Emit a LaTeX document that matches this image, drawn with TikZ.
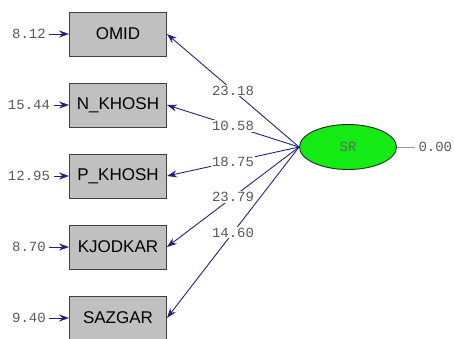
\documentclass[tikz,border=0pt]{standalone}
\usepackage{fontspec}
\setmainfont{Liberation Sans}
\setmonofont{Liberation Mono}
\usetikzlibrary{arrows.meta,shapes.geometric}
\definecolor{pathblue}{RGB}{35,35,125}
\definecolor{boxgray}{RGB}{192,192,192}
\definecolor{latgreen}{RGB}{20,235,20}

\begin{document}
\begin{tikzpicture}[x=1pt,y=-1pt,
    obs/.style={draw=black!75,fill=boxgray,line width=0.9pt,minimum width=97pt,
      minimum height=44pt,inner sep=0pt,font=\fontsize{17}{19}\selectfont},
    lat/.style={ellipse,draw=black!85,fill=latgreen,line width=0.9pt,minimum width=97pt,
      minimum height=45pt,inner sep=0pt,text=black!60,font=\ttfamily\fontsize{14}{16}\selectfont},
    num/.style={text=black!65,font=\ttfamily\fontsize{14}{16}\selectfont},
    load/.style={num,fill=white,inner sep=1pt},
    pth/.style={draw=pathblue,line width=0.9pt,-{Stealth[length=10pt,width=7pt]}}]
  \useasboundingbox (0,0) rectangle (454,338);
  % observed variables
  \node[obs] (omid) at (118,34) {OMID};
  \node[obs] (nkhosh) at (118,105) {N\_KHOSH};
  \node[obs] (pkhosh) at (118,176) {P\_KHOSH};
  \node[obs] (kjodkar) at (118,247) {KJODKAR};
  \node[obs] (sazgar) at (118,318) {SAZGAR};
  % latent variable
  \node[lat] (sr) at (348,147) {SR};
  % error variances
  \node[num] (eomid) at (29,34) {8.12};
  \node[num] (enkhosh) at (29,105) {15.44};
  \node[num] (epkhosh) at (29,176) {12.95};
  \node[num] (ekjodkar) at (29,247) {8.70};
  \node[num] (esazgar) at (29,318) {9.40};
  \draw[pth] (eomid.east) -- (omid.west);
  \draw[pth] (enkhosh.east) -- (nkhosh.west);
  \draw[pth] (epkhosh.east) -- (pkhosh.west);
  \draw[pth] (ekjodkar.east) -- (kjodkar.west);
  \draw[pth] (esazgar.east) -- (sazgar.west);
  % loadings
  \draw[pth] (sr.west) -- node[load] {23.18} (omid.east);
  \draw[pth] (sr.west) -- node[load] {10.58} (nkhosh.east);
  \draw[pth] (sr.west) -- node[load] {18.75} (pkhosh.east);
  \draw[pth] (sr.west) -- node[load] {23.79} (kjodkar.east);
  \draw[pth] (sr.west) -- node[load] {14.60} (sazgar.east);
  % latent variance
  \node[num,anchor=west] (esr) at (415,147) {0.00};
  \draw[black!40,line width=0.6pt] (sr.east) -- (esr.west);
\end{tikzpicture}
\end{document}
